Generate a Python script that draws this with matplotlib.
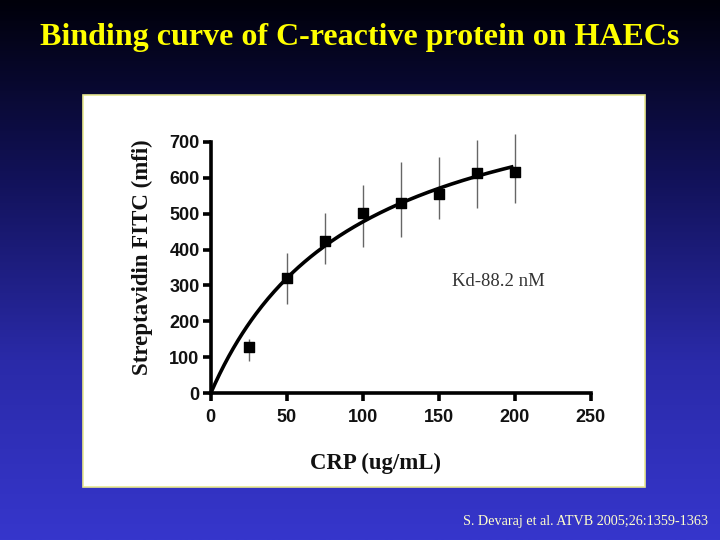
import numpy as np
import matplotlib
matplotlib.use("Agg")
import matplotlib.pyplot as plt
from matplotlib.patches import Rectangle
from matplotlib.colors import LinearSegmentedColormap

# ---- data ----
crp = [25, 50, 75, 100, 125, 150, 175, 200]
mfi = [130, 320, 425, 501, 529, 554, 614, 617]
err_low = [91, 248, 360, 406, 436, 484, 515, 530]
err_high = [150, 391, 501, 579, 644, 658, 705, 721]
# one-site binding fit parameters (as drawn)
bmax = 936
kd_fit = 96.3
fit_x_max = 198

x_ticks = [0, 50, 100, 150, 200, 250]
y_ticks = [0, 100, 200, 300, 400, 500, 600, 700]

title = "Binding curve of C-reactive protein on HAECs"
xlabel = "CRP (ug/mL)"
ylabel = "Streptavidin FITC (mfi)"
kd_text = "Kd-88.2 nM"
citation = "S. Devaraj et al. ATVB 2005;26:1359-1363"

W, H = 720, 540
fig = plt.figure(figsize=(W / 100, H / 100), dpi=100)

# background gradient
bg = fig.add_axes([0, 0, 1, 1], zorder=0)
cmap = LinearSegmentedColormap.from_list("bg", ["#00000a", "#12125a", "#2a2aa8", "#3636cc"])
grad = np.linspace(0, 1, 256).reshape(-1, 1)
bg.imshow(grad, aspect="auto", cmap=cmap, extent=[0, 1, 1, 0])
bg.set_xlim(0, 1)
bg.set_ylim(1, 0)
bg.axis("off")

# white panel
px0, px1, py0, py1 = 83, 645, 95, 487
fig.patches.append(Rectangle((px0 / W, 1 - py1 / H), (px1 - px0) / W, (py1 - py0) / H,
                             transform=fig.transFigure, facecolor="white",
                             edgecolor="#e8e890", linewidth=1.2, zorder=1))

# title & citation
fig.text(0.5, 1 - 38 / H, title, ha="center", va="center", color="#ffff00",
         fontsize=23, fontweight="bold", family="Liberation Serif", zorder=3)
fig.text(708 / W, 1 - 521 / H, citation, ha="right", va="center", color="#ffffcc",
         fontsize=10.2, family="Liberation Serif", zorder=3)

# main axes
ax_l, ax_r, ax_b, ax_t = 210.7, 590.7, 393.3, 141.7
ax = fig.add_axes([ax_l / W, 1 - ax_b / H, (ax_r - ax_l) / W, (ax_b - ax_t) / H], zorder=2)
ax.patch.set_alpha(0)
ax.set_xlim(0, 250)
ax.set_ylim(0, 700)

fx = np.linspace(0, fit_x_max, 200)
ax.plot(fx, bmax * fx / (kd_fit + fx), color="black", lw=2.6, zorder=3, clip_on=False)

lo = np.array(mfi) - np.array(err_low)
hi = np.array(err_high) - np.array(mfi)
ax.errorbar(crp, mfi, yerr=[lo, hi], fmt="none", ecolor="#666666", elinewidth=1.0,
            capsize=0, zorder=2, clip_on=False)
ax.scatter(crp, mfi, marker="s", s=55, color="black", zorder=4, clip_on=False)

ax.text(189, 312, kd_text, ha="center", va="center", fontsize=13.5,
        family="Liberation Serif", color="#333333")

for s in ["top", "right"]:
    ax.spines[s].set_visible(False)
for s in ["left", "bottom"]:
    ax.spines[s].set_linewidth(2.6)
ax.set_xticks(x_ticks)
ax.set_yticks(y_ticks)
ax.tick_params(axis="both", direction="out", length=6, width=2.6, labelsize=13)
ax.tick_params(axis="x", pad=5)
ax.tick_params(axis="y", pad=2)
for lab in ax.get_xticklabels() + ax.get_yticklabels():
    lab.set_fontweight("bold")
    lab.set_family("Liberation Sans")
    lab.set_color("#111111")

ax.set_xlabel(xlabel, fontsize=16.4, fontweight="bold", family="Liberation Serif",
              color="#111111", va="center")
ax.xaxis.set_label_coords((376 - ax_l) / (ax_r - ax_l), (ax_b - 463) / (ax_b - ax_t))
ax.set_ylabel(ylabel, fontsize=16.5, fontweight="bold", family="Liberation Serif",
              color="#111111", va="center")
ax.yaxis.set_label_coords((142 - ax_l) / (ax_r - ax_l), (ax_b - 257) / (ax_b - ax_t))

fig.savefig("out.png", dpi=100)
